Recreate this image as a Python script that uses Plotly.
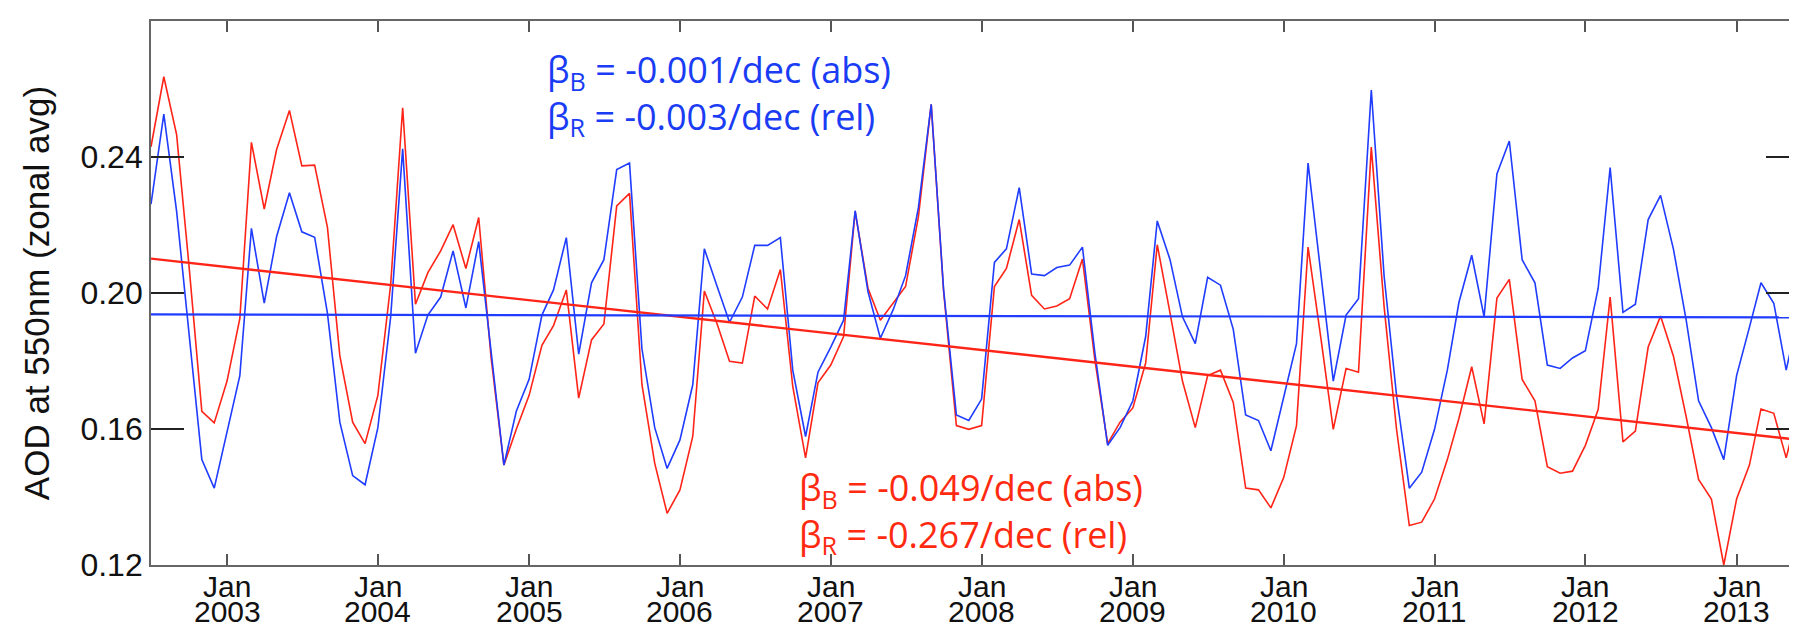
import pandas as pd
import plotly.graph_objects as go

# ---------------- data ----------------
start_month = "2002-07-01"
n_months = 132

aod_red = [
    0.2430, 0.2636, 0.2466, 0.2080, 0.1652, 0.1618, 0.1741, 0.1925, 0.2443, 0.2247, 0.2422, 0.2537,
    0.2374, 0.2376, 0.2193, 0.1815, 0.1620, 0.1557, 0.1699, 0.2025, 0.2545, 0.1967, 0.2060, 0.2124,
    0.2201, 0.2072, 0.2222, 0.1810, 0.1494, 0.1599, 0.1699, 0.1846, 0.1904, 0.2009, 0.1691, 0.1862,
    0.1909, 0.2256, 0.2293, 0.1731, 0.1499, 0.1352, 0.1421, 0.1578, 0.2006, 0.1909, 0.1799, 0.1794,
    0.1991, 0.1953, 0.2069, 0.1725, 0.1515, 0.1736, 0.1788, 0.1872, 0.2240, 0.2014, 0.1920, 0.1972,
    0.2019, 0.2224, 0.2555, 0.2005, 0.1610, 0.1599, 0.1610, 0.2019, 0.2072, 0.2216, 0.1993, 0.1953,
    0.1962, 0.1983, 0.2100, 0.1804, 0.1557, 0.1620, 0.1662, 0.1794, 0.2142, 0.1941, 0.1741, 0.1604,
    0.1757, 0.1773, 0.1678, 0.1426, 0.1421, 0.1368, 0.1457, 0.1610, 0.2135, 0.1867, 0.1599, 0.1778,
    0.1767, 0.2429, 0.1960, 0.1600, 0.1316, 0.1326, 0.1394, 0.1510, 0.1631, 0.1783, 0.1615, 0.1985,
    0.2040, 0.1746, 0.1683, 0.1489, 0.1470, 0.1476, 0.1552, 0.1657, 0.1988, 0.1562, 0.1594, 0.1841,
    0.1932, 0.1815, 0.1636, 0.1452, 0.1394, 0.1200, 0.1394, 0.1494, 0.1659, 0.1646, 0.1515, 0.1667,
]

aod_blue = [
    0.2261, 0.2526, 0.2240, 0.1880, 0.1510, 0.1426, 0.1594, 0.1757, 0.2190, 0.1970, 0.2166, 0.2295,
    0.2180, 0.2164, 0.1940, 0.1620, 0.1463, 0.1436, 0.1604, 0.1930, 0.2424, 0.1823, 0.1935, 0.1988,
    0.2124, 0.1956, 0.2151, 0.1820, 0.1494, 0.1652, 0.1746, 0.1935, 0.2009, 0.2163, 0.1820, 0.2030,
    0.2098, 0.2363, 0.2382, 0.1836, 0.1604, 0.1484, 0.1568, 0.1730, 0.2130, 0.2019, 0.1914, 0.1988,
    0.2140, 0.2140, 0.2163, 0.1773, 0.1578, 0.1767, 0.1841, 0.1920, 0.2242, 0.2004, 0.1867, 0.1951,
    0.2051, 0.2251, 0.2555, 0.2010, 0.1641, 0.1625, 0.1688, 0.2090, 0.2130, 0.2310, 0.2056, 0.2051,
    0.2075, 0.2082, 0.2135, 0.1825, 0.1552, 0.1604, 0.1683, 0.1872, 0.2212, 0.2098, 0.1930, 0.1851,
    0.2046, 0.2023, 0.1893, 0.1641, 0.1625, 0.1536, 0.1694, 0.1851, 0.2382, 0.2061, 0.1741, 0.1935,
    0.1983, 0.2597, 0.2050, 0.1700, 0.1426, 0.1473, 0.1599, 0.1773, 0.1972, 0.2111, 0.1930, 0.2350,
    0.2447, 0.2098, 0.2030, 0.1788, 0.1778, 0.1809, 0.1830, 0.2014, 0.2369, 0.1943, 0.1967, 0.2216,
    0.2287, 0.2130, 0.1920, 0.1683, 0.1604, 0.1510, 0.1757, 0.1899, 0.2030, 0.1970, 0.1773, 0.1946,
]

trend_dates = ["2002-07-01", "2013-06-01"]
trend_blue = [0.1937, 0.1928]
trend_red = [0.2101, 0.1568]

tick_years = [2003, 2004, 2005, 2006, 2007, 2008, 2009, 2010, 2011, 2012, 2013]
tick_month_label = "Jan"
y_ticks = [0.12, 0.16, 0.20, 0.24, 0.28]

blue_text = "β<sub>B</sub> = -0.001/dec (abs)<br>β<sub>R</sub> = -0.003/dec (rel)"
red_text = "β<sub>B</sub> = -0.049/dec (abs)<br>β<sub>R</sub> = -0.267/dec (rel)"

# ---------------- figure ----------------
dates = pd.date_range(start_month, periods=n_months, freq="MS")
tick_dates = [f"{y}-01-01" for y in tick_years]

BLUE = "#1f3cff"
RED = "#ff2418"
TXT_BLUE = "#1a3cf5"
TXT_RED = "#ff2a10"

fig = go.Figure()
fig.add_trace(go.Scatter(x=dates, y=aod_red, mode="lines",
                         line=dict(color=RED, width=1.6), hoverinfo="skip"))
fig.add_trace(go.Scatter(x=dates, y=aod_blue, mode="lines",
                         line=dict(color=BLUE, width=1.6), hoverinfo="skip"))
fig.add_trace(go.Scatter(x=trend_dates, y=trend_red, mode="lines",
                         line=dict(color=RED, width=2.4), hoverinfo="skip"))
fig.add_trace(go.Scatter(x=trend_dates, y=trend_blue, mode="lines",
                         line=dict(color=BLUE, width=2.2), hoverinfo="skip"))

FONT = "Liberation Sans, Arial, Helvetica, sans-serif"
tick_font = dict(family=FONT, size=32, color="#111")
xlab_font = dict(family=FONT, size=30, color="#111")

fig.update_xaxes(
    range=[trend_dates[0], trend_dates[1]],
    tickmode="array", tickvals=tick_dates, showticklabels=False,
    ticks="inside", ticklen=11, tickwidth=1.5, tickcolor="#555",
    showline=True, linecolor="#666", linewidth=1.8, mirror="ticks",
    showgrid=False, zeroline=False,
)
fig.update_yaxes(
    range=[y_ticks[0], y_ticks[-1]],
    tickmode="array", tickvals=y_ticks, ticktext=[f"{v:.2f}" for v in y_ticks],
    ticks="inside", ticklen=33, tickwidth=1.5, tickcolor="#222",
    showline=True, linecolor="#666", linewidth=1.8, mirror="ticks",
    showgrid=False, zeroline=False, tickfont=tick_font,
    title=dict(text="AOD at 550nm (zonal avg)", standoff=20,
               font=dict(family=FONT, size=35, color="#111")),
)

annotations = []
for yr, td in zip(tick_years, tick_dates):
    annotations.append(dict(x=td, xref="x", y=-0.040, yref="paper", text=tick_month_label,
                            showarrow=False, xanchor="center", yanchor="middle",
                            font=xlab_font))
    annotations.append(dict(x=td, xref="x", y=-0.086, yref="paper", text=str(yr),
                            showarrow=False, xanchor="center", yanchor="middle",
                            font=xlab_font))

annotations.append(dict(x=0.239, xref="paper", y=0.865, yref="paper", text=blue_text,
                        showarrow=False, xanchor="left", yanchor="middle", align="left",
                        font=dict(family="Open Sans, Noto Sans, sans-serif", size=36,
                                  color=TXT_BLUE)))
annotations.append(dict(x=0.392, xref="paper", y=0.096, yref="paper", text=red_text,
                        showarrow=False, xanchor="left", yanchor="middle", align="left",
                        font=dict(family="Open Sans, Noto Sans, sans-serif", size=36,
                                  color=TXT_RED)))

fig.update_layout(
    width=1797, height=631,
    margin=dict(l=143, r=4, t=13, b=74),
    paper_bgcolor="white", plot_bgcolor="white",
    showlegend=False,
    annotations=annotations,
)

fig.write_html("out.html")
